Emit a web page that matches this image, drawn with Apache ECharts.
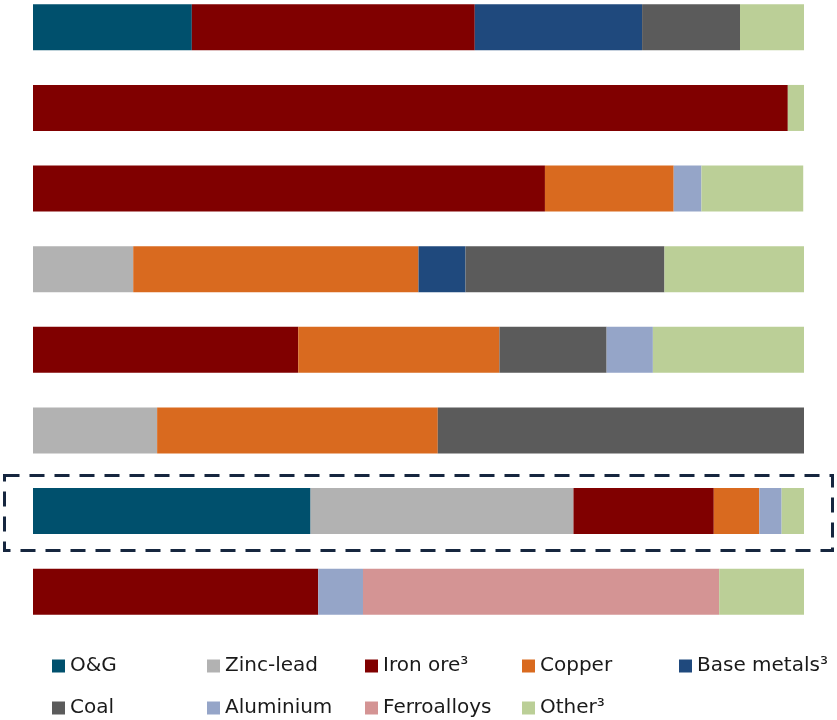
<!DOCTYPE html>
<html>
<head>
<meta charset="utf-8">
<script src="https://cdn.jsdelivr.net/npm/echarts@6/dist/echarts.min.js"></script>
<style>
  html, body { margin: 0; padding: 0; background: #fff; overflow: hidden; }
  /* the original is cropped a little at the top, so shift the canvas up */
  #main { width: 837px; height: 733px; position: absolute; left: 0; top: -13px; }
</style>
</head>
<body>
<div id="main"></div>
<script>
// rows, top to bottom (no labels shown in the original)
const categories = ["A", "B", "C", "D", "E", "F", "G", "H"];

// share of each row, %
const oilGas      = [20.6, null, null, null, null, null, 36.0, null];
const zincLead    = [null, null, null, 13.0, null, 16.1, 34.1, null];
const ironOre     = [36.7, 97.9, 66.4, null, 34.4, null, 18.2, 37.0];
const copper      = [null, null, 16.7, 37.0, 26.1, 36.4, 5.9, null];
const baseMetals  = [21.7, null, null, 6.1, null, null, null, null];
const coal        = [12.7, null, null, 25.8, 13.9, 47.5, null, null];
const aluminium   = [null, null, 3.6, null, 6.0, null, 2.9, 5.8];
const ferroalloys = [null, null, null, null, null, null, null, 46.2];
const other       = [8.3, 2.1, 13.2, 18.2, 19.7, null, 3.0, 11.0];

const legendRow1 = ["O&G", "Zinc-lead", "Iron ore³", "Copper", "Base metals³"];
const legendRow2 = ["Coal", "Aluminium", "Ferroalloys", "Other³"];

const highlighted = "G";

const myChart = echarts.init(document.getElementById("main"));

function bar(name, data, color) {
  return {
    name: name,
    type: "bar",
    stack: "total",
    barWidth: 46,
    data: data,
    itemStyle: { color: color },
    emphasis: { disabled: true },
  };
}

// legend laid out in fixed columns, one component per entry
const legendCols = [52, 207, 365, 522, 679];
const legendTops = [669, 711];
const legends = [];
[legendRow1, legendRow2].forEach(function (row, r) {
  row.forEach(function (name, i) {
    legends.push({
      left: legendCols[i],
      top: legendTops[r],
      padding: 0,
      itemWidth: 13,
      itemHeight: 13,
      icon: "rect",
      selectedMode: false,
      data: [name],
      textStyle: {
        fontFamily: "DejaVu Sans",
        fontSize: 20,
        color: "#1a1a1a",
      },
    });
  });
});

const option = {
  animation: false,
  grid: {
    left: 33,
    right: 33,
    top: 0,
    bottom: 88,
  },
  xAxis: {
    type: "value",
    min: 0,
    max: 100,
    show: false,
  },
  yAxis: {
    type: "category",
    data: categories,
    inverse: true,
    show: false,
  },
  legend: legends,
  series: [
    bar("O&G", oilGas, "#00506d"),
    bar("Zinc-lead", zincLead, "#b2b2b2"),
    bar("Iron ore³", ironOre, "#800000"),
    bar("Copper", copper, "#d96a1f"),
    bar("Base metals³", baseMetals, "#1f497d"),
    bar("Coal", coal, "#5b5b5b"),
    bar("Aluminium", aluminium, "#95a5c8"),
    bar("Ferroalloys", ferroalloys, "#d49494"),
    bar("Other³", other, "#bbcf97"),
  ],
};

option && myChart.setOption(option);

// dashed frame around the highlighted row
const cy = myChart.convertToPixel({ yAxisIndex: 0 }, highlighted);
const x0 = myChart.convertToPixel({ xAxisIndex: 0 }, 0);
const x1 = myChart.convertToPixel({ xAxisIndex: 0 }, 100);
myChart.setOption({
  graphic: [
    {
      type: "rect",
      shape: { x: x0 - 28.5, y: cy - 35.5, width: x1 - x0 + 57, height: 75 },
      style: {
        fill: "none",
        stroke: "#16263f",
        lineWidth: 3,
        lineDash: [15, 10],
      },
      silent: true,
    },
  ],
});
</script>
</body>
</html>
